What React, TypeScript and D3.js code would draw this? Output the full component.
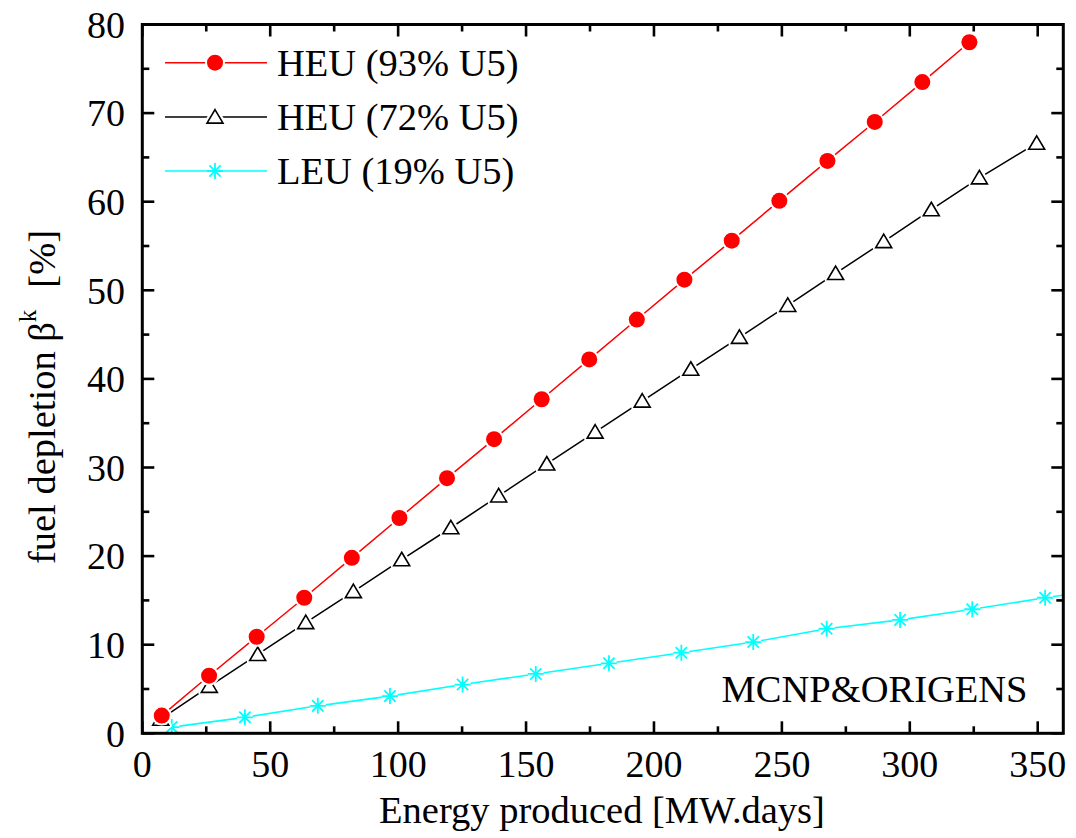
import React from "react";
import * as d3 from "d3";

// Fuel depletion vs. produced energy for three fuel enrichments
const heu93Energy = [7.6, 26.1, 44.7, 63.3, 81.9, 100.5, 119.1, 137.5, 156.1, 174.7, 193.3, 211.9, 230.4, 249.0, 267.8, 286.3, 304.9, 323.3];
const heu93Depletion = [2.0, 6.5, 10.9, 15.3, 19.8, 24.3, 28.8, 33.2, 37.7, 42.2, 46.7, 51.2, 55.6, 60.1, 64.6, 69.0, 73.5, 78.0];

const heu72Energy = [7.2, 26.2, 45.1, 63.9, 82.5, 101.4, 120.6, 139.3, 158.1, 177.0, 195.4, 214.4, 233.4, 252.3, 271.0, 289.8, 308.4, 327.2, 349.6];
const heu72Depletion = [1.6, 5.3, 8.9, 12.5, 16.0, 19.6, 23.2, 26.8, 30.4, 34.0, 37.5, 41.1, 44.7, 48.3, 51.9, 55.5, 59.1, 62.7, 66.6];

const leu19Energy = [11.5, 40.1, 68.6, 96.8, 125.2, 153.8, 182.4, 210.7, 238.8, 267.5, 296.2, 324.4, 352.9, 381.4];
const leu19Depletion = [0.7, 1.8, 3.1, 4.2, 5.5, 6.7, 7.9, 9.1, 10.3, 11.8, 12.8, 14.0, 15.3, 16.5];

const xTicks = [0, 50, 100, 150, 200, 250, 300, 350];
const yTicks = [0, 10, 20, 30, 40, 50, 60, 70, 80];
const legendLabels = ["HEU (93% U5)", "HEU (72% U5)", "LEU (19% U5)"];

const FONT = "'Liberation Serif', 'Times New Roman', serif";
const W = 1076;
const H = 838;
const plot = { left: 142.3, right: 1063.3, top: 24.5, bottom: 733.3 };

const x = d3.scaleLinear().domain([0, 360]).range([plot.left, plot.right]);
const y = d3.scaleLinear().domain([0, 80]).range([plot.bottom, plot.top]);

type Pt = [number, number];
const zip = (xs: number[], ys: number[]): Pt[] => xs.map((v, i) => [v, ys[i]]);

const line = d3
  .line<Pt>()
  .x((d) => x(d[0]))
  .y((d) => y(d[1]));

function Circle({ cx, cy }: { cx: number; cy: number }) {
  return (
    <g>
      <circle cx={cx} cy={cy} r={8} fill="#fff" stroke="#fff" strokeWidth={4} />
      <circle cx={cx} cy={cy} r={8} fill="#ff0000" />
    </g>
  );
}

function Triangle({ cx, cy }: { cx: number; cy: number }) {
  const s = 8;
  const h = 13.5;
  const d = `M${cx},${cy - h * 0.55} L${cx + s},${cy + h * 0.45} L${cx - s},${cy + h * 0.45} Z`;
  return (
    <g>
      <path d={d} fill="#fff" stroke="#fff" strokeWidth={6} strokeLinejoin="round" />
      <path d={d} fill="#fff" stroke="#000" strokeWidth={1.6} />
    </g>
  );
}

function Star({ cx, cy }: { cx: number; cy: number }) {
  const r = 8;
  const k = r * Math.SQRT1_2;
  const d = `M${cx - r},${cy} L${cx + r},${cy} M${cx},${cy - r} L${cx},${cy + r} M${cx - k},${cy - k} L${cx + k},${cy + k} M${cx - k},${cy + k} L${cx + k},${cy - k}`;
  return (
    <g>
      <circle cx={cx} cy={cy} r={r} fill="#fff" />
      <path d={d} stroke="#00ffff" strokeWidth={1.8} fill="none" />
    </g>
  );
}

export default function App() {
  const red = zip(heu93Energy, heu93Depletion);
  const black = zip(heu72Energy, heu72Depletion);
  const cyan = zip(leu19Energy, leu19Depletion);

  const xMinor = d3.range(25, 360, 50);
  const yMinor = d3.range(5, 80, 10);
  const major = 12;
  const minor = 7;

  const legendRows = [62.7, 117, 171];
  const legendX0 = 165;
  const legendX1 = 267;
  const legendM = 215;

  return (
    <svg
      width={W}
      height={H}
      style={{ position: "absolute", left: 0, top: 0, background: "#fff" }}
      fontFamily={FONT}
    >
      <defs>
        <clipPath id="plotClip">
          <rect x={plot.left} y={plot.top} width={plot.right - plot.left} height={plot.bottom - plot.top} />
        </clipPath>
      </defs>
      <rect width={W} height={H} fill="#fff" />

      {/* series */}
      <g clipPath="url(#plotClip)">
        <path d={line(cyan) ?? ""} fill="none" stroke="#00ffff" strokeWidth={1.6} />
        {cyan.map((p, i) => (
          <Star key={i} cx={x(p[0])} cy={y(p[1])} />
        ))}
        <path d={line(black) ?? ""} fill="none" stroke="#000" strokeWidth={1.5} />
        {black.map((p, i) => (
          <Triangle key={i} cx={x(p[0])} cy={y(p[1])} />
        ))}
        <path d={line(red) ?? ""} fill="none" stroke="#ff0000" strokeWidth={1.5} />
        {red.map((p, i) => (
          <Circle key={i} cx={x(p[0])} cy={y(p[1])} />
        ))}
      </g>

      {/* ticks, pointing inward on all four sides */}
      <g stroke="#000" strokeWidth={2.6}>
        {xTicks.map((t) => (
          <g key={"xt" + t}>
            <line x1={x(t)} x2={x(t)} y1={plot.bottom} y2={plot.bottom - major} />
            <line x1={x(t)} x2={x(t)} y1={plot.top} y2={plot.top + major} />
          </g>
        ))}
        {xMinor.map((t) => (
          <g key={"xm" + t}>
            <line x1={x(t)} x2={x(t)} y1={plot.bottom} y2={plot.bottom - minor} />
            <line x1={x(t)} x2={x(t)} y1={plot.top} y2={plot.top + minor} />
          </g>
        ))}
        {yTicks.map((t) => (
          <g key={"yt" + t}>
            <line x1={plot.left} x2={plot.left + major} y1={y(t)} y2={y(t)} />
            <line x1={plot.right} x2={plot.right - major} y1={y(t)} y2={y(t)} />
          </g>
        ))}
        {yMinor.map((t) => (
          <g key={"ym" + t}>
            <line x1={plot.left} x2={plot.left + minor} y1={y(t)} y2={y(t)} />
            <line x1={plot.right} x2={plot.right - minor} y1={y(t)} y2={y(t)} />
          </g>
        ))}
      </g>

      {/* frame */}
      <rect
        x={plot.left}
        y={plot.top}
        width={plot.right - plot.left}
        height={plot.bottom - plot.top}
        fill="none"
        stroke="#000"
        strokeWidth={3}
      />

      {/* tick labels */}
      <g fontSize={38} fill="#000">
        {xTicks.map((t) => (
          <text key={"xl" + t} x={x(t)} y={776.5} textAnchor="middle">
            {t}
          </text>
        ))}
        {yTicks.map((t) => (
          <text key={"yl" + t} x={125} y={y(t) + 13.3} textAnchor="end">
            {t}
          </text>
        ))}
      </g>

      {/* axis titles */}
      <text x={602} y={823} fontSize={38.5} textAnchor="middle" fill="#000">
        Energy produced [MW.days]
      </text>
      <text
        transform="translate(55,397) rotate(-90)"
        fontSize={38.5}
        textAnchor="middle"
        fill="#000"
      >
        <tspan>fuel depletion β</tspan>
        <tspan fontSize={25} dy={-19}>k</tspan>
        <tspan dy={19} dx={22}>[%]</tspan>
      </text>

      {/* annotation */}
      <text x={1027.5} y={701.7} fontSize={38.5} textAnchor="end" fill="#000">
        MCNP&amp;ORIGENS
      </text>

      {/* legend */}
      <g>
        <line x1={legendX0} x2={legendX1} y1={legendRows[0]} y2={legendRows[0]} stroke="#ff0000" strokeWidth={1.5} />
        <Circle cx={legendM} cy={legendRows[0]} />
        <line x1={legendX0} x2={legendX1} y1={legendRows[1]} y2={legendRows[1]} stroke="#000" strokeWidth={1.5} />
        <Triangle cx={legendM} cy={legendRows[1]} />
        <line x1={legendX0} x2={legendX1} y1={legendRows[2]} y2={legendRows[2]} stroke="#00ffff" strokeWidth={1.6} />
        <Star cx={legendM} cy={legendRows[2]} />
        {legendLabels.map((l, i) => (
          <text key={l} x={277} y={legendRows[i] + 13} fontSize={38.5} fill="#000">
            {l}
          </text>
        ))}
      </g>
    </svg>
  );
}
